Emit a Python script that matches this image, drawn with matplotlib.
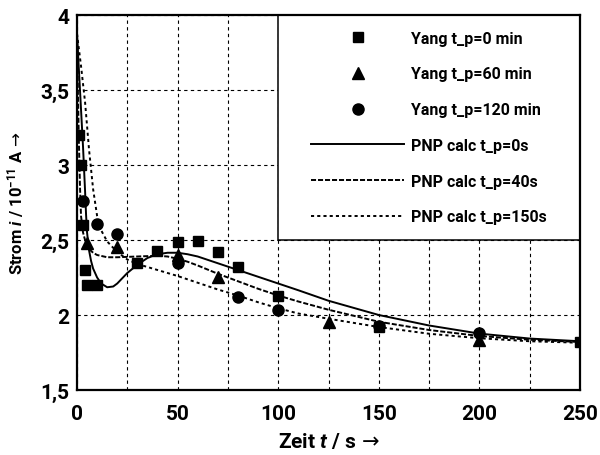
import matplotlib
matplotlib.use("Agg")
import matplotlib.pyplot as plt
from matplotlib.patches import Rectangle
from matplotlib.ticker import FixedLocator

plt.rcParams['font.family'] = ['Roboto', 'DejaVu Sans']
plt.rcParams['mathtext.fontset'] = 'custom'
plt.rcParams['mathtext.rm'] = 'Roboto'
plt.rcParams['mathtext.it'] = 'Roboto:italic'
plt.rcParams['mathtext.bf'] = 'Roboto:bold'
plt.rcParams['mathtext.bfit'] = 'Roboto:italic:bold'
plt.rcParams['mathtext.sf'] = 'DejaVu Sans'

# Measured currents (Yang) for three pre-polarisation times
time_tp0 = [1, 2, 3, 4, 5, 10, 30, 40, 50, 60, 70, 80, 100, 150, 250]
curr_tp0 = [3.2, 3.0, 2.6, 2.3, 2.2, 2.2, 2.35, 2.43, 2.49, 2.495, 2.42, 2.32, 2.13, 1.92, 1.82]

time_tp60 = [5, 20, 50, 70, 125, 200]
curr_tp60 = [2.48, 2.455, 2.40, 2.255, 1.955, 1.835]

time_tp120 = [3, 10, 20, 50, 80, 100, 150, 200]
curr_tp120 = [2.76, 2.61, 2.54, 2.35, 2.12, 2.035, 1.93, 1.88]

# PNP model curves
calc0_t = [0, 1, 2, 3, 4, 4.5, 5, 6, 7, 8, 10, 12, 15, 18, 20, 25, 30, 35, 40, 45,
           50, 55, 60, 70, 80, 90, 100, 110, 125, 150, 175, 200, 225, 250]
calc0_i = [3.875, 3.62, 3.37, 3.12, 2.83, 2.67, 2.55, 2.43, 2.36, 2.31, 2.25, 2.21,
           2.185, 2.19, 2.21, 2.28, 2.335, 2.38, 2.405, 2.415, 2.415, 2.405, 2.39,
           2.345, 2.30, 2.255, 2.21, 2.165, 2.095, 2.0, 1.93, 1.876, 1.843, 1.825]

calc40_t = [0, 0.5, 1, 1.5, 2, 3, 4, 5, 6, 8, 10, 15, 20, 30, 40, 45, 50, 55, 60,
            70, 80, 90, 100, 110, 125, 150, 175, 200, 225, 250]
calc40_i = [3.875, 3.45, 3.12, 2.85, 2.66, 2.55, 2.5, 2.465, 2.44, 2.415, 2.4, 2.385,
            2.385, 2.39, 2.395, 2.39, 2.375, 2.355, 2.33, 2.275, 2.225, 2.175, 2.13,
            2.09, 2.035, 1.955, 1.9, 1.86, 1.835, 1.82]

calc150_t = [0, 2, 4, 6, 8, 10, 12, 15, 20, 25, 30, 40, 50, 60, 70, 80, 90, 100,
             110, 125, 150, 175, 200, 225, 250]
calc150_i = [3.875, 3.66, 3.42, 3.1, 2.84, 2.66, 2.565, 2.49, 2.42, 2.37, 2.34, 2.3,
             2.26, 2.215, 2.17, 2.13, 2.085, 2.045, 2.01, 1.975, 1.92, 1.875, 1.845,
             1.825, 1.815]

xticks = [0, 50, 100, 150, 200, 250]
xtick_labels = ['0', '50', '100', '150', '200', '250']
xgrid_minor = [25, 75, 125, 175, 225]
yticks = [1.5, 2, 2.5, 3, 3.5, 4]
ytick_labels = ['1,5', '2', '2,5', '3', '3,5', '4']

fig = plt.figure(figsize=(6, 4.56), dpi=100)
ax = fig.add_axes([77 / 600, 1 - 391 / 456, 503 / 600, 375 / 456])

ax.set_xlim(0, 250)
ax.set_ylim(1.5, 4)
ax.set_xticks(xticks)
ax.set_xticklabels(xtick_labels)
ax.xaxis.set_minor_locator(FixedLocator(xgrid_minor))
ax.set_yticks(yticks)
ax.set_yticklabels(ytick_labels)
ax.tick_params(which='both', length=0)
ax.tick_params(axis='x', pad=10, labelsize=15)
ax.tick_params(axis='y', pad=5.5, labelsize=15)
for lab in ax.get_xticklabels() + ax.get_yticklabels():
    lab.set_fontweight('bold')

ax.set_axisbelow(True)
ax.grid(True, which='both', color='black', linestyle=(0, (3, 3)), linewidth=0.8)
for sp in ax.spines.values():
    sp.set_linewidth(1.6)
    sp.set_zorder(6)

lw = 1.4
l0, = ax.plot(calc0_t, calc0_i, color='black', lw=lw, zorder=2,
              label='PNP calc t_p=0s')
l40, = ax.plot(calc40_t, calc40_i, color='black', lw=lw, zorder=2,
               dashes=(2.6, 1.0), label='PNP calc t_p=40s')
l150, = ax.plot(calc150_t, calc150_i, color='black', lw=lw, zorder=2,
                dashes=(1.6, 1.6), label='PNP calc t_p=150s')

m0, = ax.plot(time_tp0, curr_tp0, 's', color='black', ms=7.5, zorder=3,
              label='Yang t_p=0 min')
m60, = ax.plot(time_tp60, curr_tp60, '^', color='black', ms=8, zorder=3,
               label='Yang t_p=60 min')
m120, = ax.plot(time_tp120, curr_tp120, 'o', color='black', ms=8, zorder=3,
                label='Yang t_p=120 min')

# legend panel filling the upper right quarter of the grid
ax.add_patch(Rectangle((0.4, 0.4), 0.6, 0.6, transform=ax.transAxes,
                       facecolor='white', edgecolor='black', lw=1.1, zorder=5))
leg = ax.legend(handles=[m0, m60, m120, l0, l40, l150], loc='center',
                bbox_to_anchor=(0.7, 0.7), frameon=False, numpoints=1,
                handlelength=5.8, handletextpad=0.45, labelspacing=1.3,
                borderpad=0, prop={'size': 11.5, 'weight': 'bold'})
leg.set_zorder(7)

ax.set_ylabel('Strom $\\mathbfit{i}$ / 10$^{\\mathbf{-11}}$ A $\\!\\mathsf{\\rightarrow}$',
              fontsize=12, fontweight='bold', labelpad=10)
ax.set_xlabel('Zeit $\\mathbfit{t}$ / s $\\!\\mathsf{\\rightarrow}$', fontsize=15,
              fontweight='bold', labelpad=6)

fig.savefig('out.png', dpi=100)
